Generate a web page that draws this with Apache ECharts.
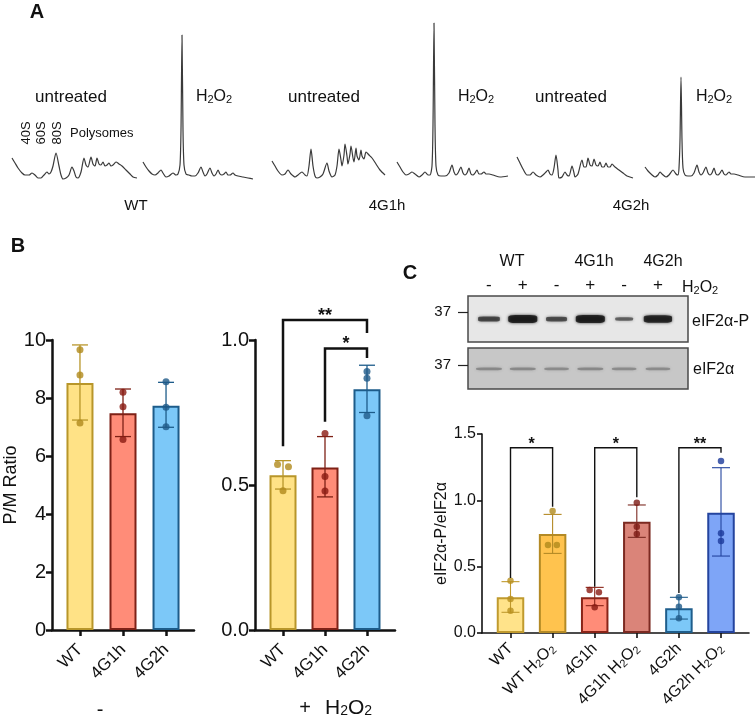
<!DOCTYPE html>
<html><head><meta charset="utf-8">
<script src="https://cdn.jsdelivr.net/npm/echarts@6/dist/echarts.min.js"></script>
<style>html,body{margin:0;padding:0;background:#fff}#c{width:756px;height:722px}</style>
</head><body><div id="c"></div><script>
const FONT = '"Liberation Sans", Arial, Helvetica, sans-serif';

// ---------- Panel A : polysome profiles [gradient position, A254 (a.u.)] ----------
const traceWTUntreated = [[0,22],[3,17],[6,12],[10,7],[13,5],[17,5],[20,7],[23,5],[26,2],[29,2],[32,5],[35,8],[37,6],[39,8],[41,14],[44,27],[47,14],[49,5],[51,1],[54,2],[57,5],[60,13],[62,9],[64,3],[66,2],[69,8],[72,22],[74,15],[76,13],[79,23],[81,16],[83,14],[85,22],[87,16],[89,15],[91,18],[93,14],[95,15],[97,17],[99,14],[101,15],[104,18],[107,16],[110,14],[114,10],[118,6],[121,3],[125,2]];
const traceWTH2O2 = [[0,18],[3,13],[6,9],[9,6],[12,5],[15,7],[18,10],[20,7],[23,3],[26,4],[30,7],[33,5],[35,6],[37,15],[38,50],[39,145],[40,50],[41,15],[43,6],[46,5],[49,4],[52,4],[55,7],[58,13],[60,8],[62,4],[64,6],[67,12],[69,7],[71,4],[73,6],[75,10],[77,6],[79,5],[81,6],[83,8],[85,5],[87,5],[90,7],[92,5],[95,4],[100,3],[105,2],[110,1]];
const trace4G1hUntreated = [[0,19],[3,14],[6,9],[10,5],[13,6],[16,10],[19,6],[23,3],[26,5],[30,8],[33,5],[35,4],[37,14],[39,31],[41,14],[43,4],[45,2],[48,3],[51,6],[55,17],[57,9],[60,3],[63,5],[65,14],[67,31],[69,20],[70,14],[72,25],[73,36],[75,24],[76,16],[78,26],[79,34],[81,22],[82,18],[84,32],[85,24],[87,20],[89,30],[90,24],[92,21],[94,28],[97,25],[100,22],[104,16],[108,10],[113,5]];
const trace4G1hH2O2 = [[0,18],[3,13],[6,8],[9,5],[12,6],[15,8],[18,6],[22,3],[25,5],[28,8],[31,5],[33,5],[35,14],[36,55],[37,157],[38,55],[39,14],[41,5],[44,4],[48,4],[52,7],[55,15],[57,8],[59,5],[61,7],[64,13],[66,7],[68,5],[70,7],[72,12],[74,6],[76,5],[78,7],[80,10],[82,6],[84,6],[87,8],[89,6],[92,6],[96,5],[103,3],[111,4]];
const trace4G2hUntreated = [[0,23],[3,17],[6,11],[10,5],[13,5],[16,8],[19,5],[23,3],[26,5],[29,8],[31,10],[33,6],[35,5],[37,12],[39,25],[41,10],[42,2],[45,3],[48,8],[50,5],[52,4],[55,14],[57,7],[58,3],[61,6],[65,20],[67,13],[69,13],[71,22],[73,15],[75,14],[77,21],[79,15],[81,14],[83,18],[85,13],[87,13],[89,17],[91,13],[93,13],[95,16],[98,13],[102,10],[106,7],[110,4],[116,2]];
const trace4G2hH2O2 = [[0,13],[3,9],[6,6],[10,3],[13,5],[15,8],[17,6],[21,3],[24,5],[28,10],[31,6],[33,5],[34,12],[35,40],[36,103],[37,40],[38,12],[40,5],[43,4],[46,4],[49,7],[52,15],[54,8],[56,5],[58,7],[61,13],[63,7],[65,5],[67,7],[69,12],[71,6],[73,5],[75,7],[77,10],[79,6],[81,5],[84,8],[86,6],[89,6],[93,5],[100,3],[110,3]];
const strainNames = ['WT', '4G1h', '4G2h'];

// ---------- Panel B : P/M ratio ----------
const bCategories = ['WT', '4G1h', '4G2h'];
const bUntreatedMean = [8.52, 7.47, 7.73];
const bUntreatedLow = [7.24, 6.67, 6.99];
const bUntreatedHigh = [9.83, 8.31, 8.54];
const bUntreatedPoints = [[9.66, 8.79, 7.14], [8.20, 7.70, 6.57], [8.56, 7.68, 7.01]];
const bH2O2Mean = [0.534, 0.560, 0.830];
const bH2O2Low = [0.486, 0.459, 0.750];
const bH2O2High = [0.584, 0.667, 0.913];
const bH2O2Points = [[0.571, 0.563, 0.480], [0.678, 0.529, 0.479], [0.891, 0.868, 0.739]];
const bH2O2Sig = [[0, 2, 1.069, 0.634, 1.024], [1, 2, 0.971, 0.718, 0.938]];
const bH2O2SigLabels = ['**', '*'];

// ---------- Panel C : western blot + quantification ----------
const blotTreatment = ['-', '+', '-', '+', '-', '+'];
const phosphoBandIntensity = [0.55, 1.0, 0.5, 1.0, 0.3, 0.95];
const totalBandIntensity = [0.45, 0.45, 0.40, 0.45, 0.40, 0.40];
const markerLabels = ['37'];
const cCategories = ['WT', 'WT H2O2', '4G1h', '4G1h H2O2', '4G2h', '4G2h H2O2'];
const cMean = [0.269, 0.746, 0.269, 0.839, 0.186, 0.907];
const cLow = [0.156, 0.600, 0.206, 0.721, 0.105, 0.580];
const cHigh = [0.387, 0.894, 0.344, 0.965, 0.269, 1.246];
const cPoints = [[0.394, 0.256, 0.168], [0.919, 0.663, 0.663], [0.324, 0.307, 0.194], [0.982, 0.801, 0.746], [0.269, 0.198, 0.111], [1.296, 0.751, 0.693]];
const cSig = [[0, 1, 1.396, 0.414, 0.952], [2, 3, 1.396, 0.349, 1.023], [4, 5, 1.396, 0.301, 1.359]];
const cSigLabels = ['*', '*', '**'];

// ---------- styling / layout ----------
const bFill = ['#FFE286', '#FF8C78', '#7CC8F8'];
const bEdge = ['#B8962A', '#7E2116', '#1D5C8A'];
const bDot = ['#B08A1B', '#8A1A12', '#1F5A88'];
const cFill = ['#FFE38A', '#FFC34E', '#FF8C78', '#DA8479', '#7CC8F8', '#7EA5F7'];
const cEdge = ['#C09A2E', '#B48A25', '#8A2418', '#7C2A22', '#1F5E8C', '#24449E'];
const cDot = ['#B8901E', '#B08A1B', '#8A1A12', '#7C1A14', '#1F5A88', '#1C3A9A'];
const bJitterH2O2 = [[-0.13, 0.13, 0], [0, 0, 0], [0, 0, 0]];
const noJitter = [[0, 0, 0], [0, 0, 0], [0, 0, 0]];
const cJitter = [[0, 0, 0], [0, -0.11, 0.1], [-0.12, 0.1, 0], [0, 0, 0], [0, 0, 0], [0, 0, 0]];

const chem = s => s.replace(/H2O2/g, 'H{s|2}O{s|2}');
const subRich = fs => ({ s: { fontSize: Math.round(fs * 0.68), lineHeight: 10, verticalAlign: 'bottom', fontFamily: FONT, color: '#111' } });

const grid = [], xAxis = [], yAxis = [], series = [], graphic = [];

// Panel A grids
const traces = [traceWTUntreated, traceWTH2O2, trace4G1hUntreated, trace4G1hH2O2, trace4G2hUntreated, trace4G2hH2O2];
const traceBoxes = [[12, 125], [143, 110], [272, 113], [397, 111], [517, 116], [645, 110]];
traces.forEach((t, i) => {
  const g = grid.length;
  grid.push({ left: traceBoxes[i][0], width: traceBoxes[i][1], top: 20, height: 160 });
  xAxis.push({ gridIndex: g, type: 'value', min: 0, max: traceBoxes[i][1], show: false });
  yAxis.push({ gridIndex: g, type: 'value', min: 0, max: 160, show: false });
  series.push({ type: 'line', xAxisIndex: g, yAxisIndex: g, data: t, smooth: 0.25, symbol: 'none', silent: true,
    lineStyle: { color: '#3a3a3a', width: 1.2 } });
});

function errRender(colors, capHalf, lw) {
  return (params, api) => {
    const x = api.value(0), lo = api.value(1), hi = api.value(2), k = api.value(3);
    const a = api.coord([x, lo]), b = api.coord([x, hi]);
    const st = { stroke: colors[k], lineWidth: lw };
    return { type: 'group', children: [
      { type: 'line', shape: { x1: a[0], y1: a[1], x2: b[0], y2: b[1] }, style: st },
      { type: 'line', shape: { x1: a[0] - capHalf, y1: a[1], x2: a[0] + capHalf, y2: a[1] }, style: st },
      { type: 'line', shape: { x1: b[0] - capHalf, y1: b[1], x2: b[0] + capHalf, y2: b[1] }, style: st }
    ] };
  };
}
function sigRender(labels, lw, fs, dy) {
  return (params, api) => {
    const a = api.value(0), b = api.value(1), top = api.value(2), la = api.value(3), lb = api.value(4);
    const p1 = api.coord([a, la]), p2 = api.coord([a, top]), p3 = api.coord([b, top]), p4 = api.coord([b, lb]);
    return { type: 'group', children: [
      { type: 'polyline', shape: { points: [p1, p2, p3, p4] }, style: { stroke: '#111', lineWidth: lw, fill: null } },
      { type: 'text', x: (p2[0] + p3[0]) / 2, y: p2[1] - dy, style: { text: labels[params.dataIndex], fontSize: fs, fontWeight: 'bold', fontFamily: FONT, fill: '#111', align: 'center', verticalAlign: 'middle' } }
    ] };
  };
}

function barPanel(o) {
  const g = grid.length;
  grid.push({ left: o.left, top: o.top, width: o.width, height: o.height });
  const idx = o.cats.map((c, i) => i);
  xAxis.push({ gridIndex: g, type: 'value', min: o.xMin, max: o.xMax,
    axisLine: { show: true, onZero: false, lineStyle: { color: '#111', width: o.lw } },
    axisTick: { show: true, customValues: idx, length: o.tickLen, lineStyle: { color: '#111', width: o.lw } },
    axisLabel: { customValues: idx, rotate: 45, margin: o.xMargin, fontSize: o.xfs, color: '#111', fontFamily: FONT, lineHeight: 18,
      formatter: v => chem(o.cats[Math.round(v)]), rich: subRich(o.xfs) },
    splitLine: { show: false } });
  yAxis.push({ gridIndex: g, type: 'value', min: 0, max: o.yMax, interval: o.yInt,
    axisLine: { show: true, onZero: false, lineStyle: { color: '#111', width: o.lw } },
    axisTick: { show: true, length: o.tickLen, lineStyle: { color: '#111', width: o.lw } },
    axisLabel: { fontSize: o.yfs, color: '#111', fontFamily: FONT, margin: 6, formatter: o.yFmt },
    splitLine: { show: false },
    name: o.yName || '', nameLocation: 'middle', nameGap: o.nameGap || 0,
    nameTextStyle: { fontSize: o.nameFs || 16, color: '#111', fontFamily: FONT } });
  series.push({ type: 'bar', xAxisIndex: g, yAxisIndex: g, barWidth: o.barW, silent: true, z: 2,
    data: o.mean.map((v, i) => ({ value: [i, v], itemStyle: { color: o.fill[i], borderColor: o.edge[i], borderWidth: o.bw } })) });
  series.push({ type: 'custom', xAxisIndex: g, yAxisIndex: g, z: 3, silent: true, clip: false,
    renderItem: errRender(o.edge, o.cap, o.elw), data: o.low.map((lo, i) => [i, lo, o.high[i], i]) });
  const pts = [];
  o.points.forEach((arr, i) => arr.forEach((v, j) => pts.push({ value: [i + o.jitter[i][j], v], itemStyle: { color: o.dot[i] } })));
  series.push({ type: 'scatter', xAxisIndex: g, yAxisIndex: g, z: 4, silent: true, symbolSize: o.dotSize, data: pts });
  if (o.sig) series.push({ type: 'custom', xAxisIndex: g, yAxisIndex: g, z: 5, silent: true, clip: false,
    renderItem: sigRender(o.sigLabels, o.sigLw, o.sigFs, o.sigDy), data: o.sig });
}

// Panel B left (untreated)
barPanel({ left: 52, top: 340, width: 142, height: 290, xMin: -0.65, xMax: 2.65, yMax: 10, yInt: 2,
  cats: bCategories, mean: bUntreatedMean, low: bUntreatedLow, high: bUntreatedHigh, points: bUntreatedPoints, jitter: noJitter,
  fill: bFill, edge: bEdge, dot: bDot, lw: 2.5, tickLen: 6, xMargin: 17, xfs: 17, yfs: 20, yFmt: v => String(v),
  yName: 'P/M Ratio', nameGap: 32, nameFs: 18, barW: 27, bw: 2, cap: 8, elw: 1.3, dotSize: 7 });
// Panel B right (+H2O2)
barPanel({ left: 255, top: 340, width: 140, height: 290, xMin: -0.667, xMax: 2.667, yMax: 1, yInt: 0.5,
  cats: bCategories, mean: bH2O2Mean, low: bH2O2Low, high: bH2O2High, points: bH2O2Points, jitter: bJitterH2O2,
  fill: bFill, edge: bEdge, dot: bDot, lw: 2.5, tickLen: 6, xMargin: 17, xfs: 17, yfs: 20, yFmt: v => v.toFixed(1),
  barW: 27, bw: 2, cap: 8, elw: 1.3, dotSize: 7,
  sig: bH2O2Sig, sigLabels: bH2O2SigLabels, sigLw: 2.5, sigFs: 18, sigDy: 4 });

// Panel C blot (two strips)
function blotStrip(top, height, bg, intensities, migration, colorFn, sizeFn, markerPos, showTop) {
  const g = grid.length;
  grid.push({ left: 468, top: top, width: 220, height: height, show: true, backgroundColor: bg, borderColor: '#4a4a4a', borderWidth: 1.5 });
  xAxis.push({ gridIndex: g, type: 'value', min: -0.62, max: 5.89, position: 'top',
    axisLine: { show: false, onZero: false }, axisTick: { show: false }, splitLine: { show: false },
    axisLabel: { show: showTop, customValues: [0, 1, 2, 3, 4, 5], margin: 2, fontSize: 17, color: '#111', fontFamily: FONT,
      formatter: v => blotTreatment[Math.round(v)] } });
  yAxis.push({ gridIndex: g, type: 'value', min: 0, max: 1,
    axisLine: { show: false, onZero: false }, splitLine: { show: false },
    axisTick: { show: true, customValues: [markerPos], length: 10, lineStyle: { color: '#222', width: 1.2 } },
    axisLabel: { customValues: [markerPos], margin: 17, fontSize: 15, color: '#111', fontFamily: FONT, formatter: () => markerLabels[0] } });
  series.push({ type: 'scatter', xAxisIndex: g, yAxisIndex: g, silent: true, symbol: 'roundRect',
    data: intensities.map((v, i) => ({ value: [i, migration, v], symbolSize: sizeFn(v), itemStyle: { color: colorFn(v), shadowBlur: 3, shadowColor: colorFn(v) } })) });
}
blotStrip(296, 46, '#e7e7e7', phosphoBandIntensity, 0.5,
  v => 'rgba(18,18,18,' + (0.5 + 0.5 * v).toFixed(2) + ')', v => [13 + 16 * v, 1.5 + 6.5 * v], 0.652, true);
blotStrip(348, 41, '#c7c7c7', totalBandIntensity, 0.49,
  v => 'rgba(95,95,95,' + (0.4 + 0.5 * v).toFixed(2) + ')', v => [14 + 26 * v, 1 + 4 * v], 0.585, false);

// Panel C quantification
barPanel({ left: 482, top: 434, width: 267, height: 199, xMin: -0.677, xMax: 5.665, yMax: 1.5, yInt: 0.5,
  cats: cCategories, mean: cMean, low: cLow, high: cHigh, points: cPoints, jitter: cJitter,
  fill: cFill, edge: cEdge, dot: cDot, lw: 1.6, tickLen: 5, xMargin: 13, xfs: 16, yfs: 16, yFmt: v => v.toFixed(1),
  yName: 'eIF2α-P/eIF2α', nameGap: 30, nameFs: 16, barW: 27.5, bw: 2, cap: 9, elw: 1.1, dotSize: 6.5,
  sig: cSig, sigLabels: cSigLabels, sigLw: 1.4, sigFs: 16, sigDy: 3 });

// ---------- text annotations ----------
function txt(x, y, text, fs, opt) {
  opt = opt || {};
  graphic.push({ type: 'text', x: x, y: y, rotation: opt.rot || 0, silent: true,
    style: { text: text, fontSize: fs, fontFamily: FONT, fontWeight: opt.bold ? 'bold' : 'normal', fill: '#111',
      align: opt.align || 'center', verticalAlign: 'middle', rich: subRich(fs) } });
}
txt(37, 12, 'A', 20, { bold: true });
txt(18, 246, 'B', 20, { bold: true });
txt(410, 273, 'C', 20, { bold: true });
// panel A labels
[71, 324, 571].forEach(x => txt(x, 97, 'untreated', 17));
[214, 476, 714].forEach(x => txt(x, 97, chem('H2O2'), 16));
[136, 387, 631].forEach((x, i) => txt(x, 206, strainNames[i], 15));
[[26, '40S'], [41, '60S'], [57, '80S']].forEach(p => txt(p[0], 133, p[1], 13, { rot: Math.PI / 2 }));
txt(70, 133, 'Polysomes', 13, { align: 'left' });
// panel B group labels
txt(100, 710, '-', 20);
txt(305, 708, '+', 20);
txt(325, 708, chem('H2O2'), 21, { align: 'left' });
// panel C blot labels
[[512, 'WT'], [594, '4G1h'], [663, '4G2h']].forEach(p => txt(p[0], 262, p[1], 16));
txt(682, 288, chem('H2O2'), 16, { align: 'left' });
txt(692, 322, 'eIF2α-P', 16, { align: 'left' });
txt(693, 370, 'eIF2α', 16, { align: 'left' });

const chart = echarts.init(document.getElementById('c'), null, { renderer: 'canvas' });
chart.setOption({
  animation: false,
  backgroundColor: '#fff',
  textStyle: { fontFamily: FONT },
  grid, xAxis, yAxis, series, graphic
});
</script></body></html>
